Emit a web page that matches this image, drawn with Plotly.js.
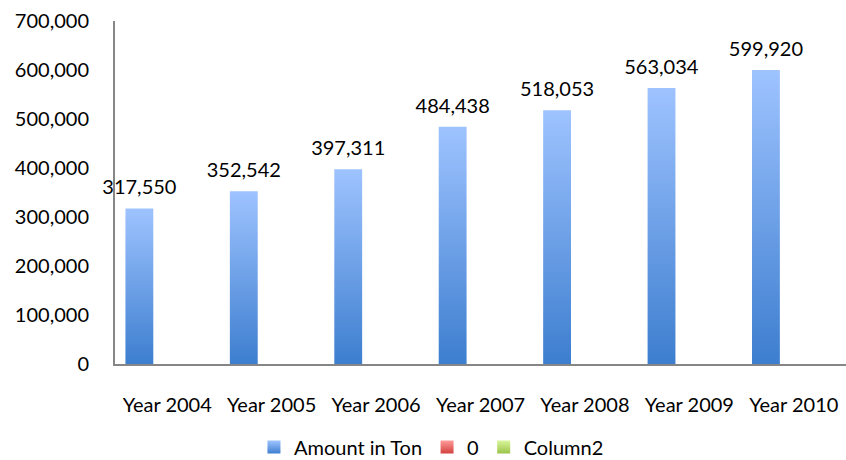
<!DOCTYPE html>
<html><head><meta charset="utf-8">
<script src="https://cdn.plot.ly/plotly-3.0.1.min.js"></script>
<style>body{margin:0;background:#fff}#c{width:846px;height:460px}</style>
</head><body><div id="c"></div>
<script>
const categories = ["Year 2004","Year 2005","Year 2006","Year 2007","Year 2008","Year 2009","Year 2010"];
const amountInTon = [317550, 352542, 397311, 484438, 518053, 563034, 599920];
const series0 = [0, 0, 0, 0, 0, 0, 0];
const column2 = [0, 0, 0, 0, 0, 0, 0];
const seriesNames = ["Amount in Ton", "0", "Column2"];

const font = {family: "Lato, 'Open Sans', sans-serif", size: 20, color: "#000"};
const traces = [
  {type: "bar", name: seriesNames[0], x: categories, y: amountInTon,
   marker: {color: "#6A9BE3", line: {width: 0}},
   text: amountInTon.map(v => v.toLocaleString("en-US")), textposition: "outside",
   constraintext: "none", textfont: font, cliponaxis: false, hoverinfo: "x+y"},
  {type: "bar", name: seriesNames[1], x: categories, y: series0,
   marker: {color: "#E06666", line: {width: 0}}},
  {type: "bar", name: seriesNames[2], x: categories, y: column2,
   marker: {color: "#B5D96A", line: {width: 0}}}
];
const layout = {
  width: 846, height: 460,
  margin: {l: 115, r: 0, t: 21, b: 96},
  paper_bgcolor: "#fff", plot_bgcolor: "#fff",
  font: font,
  barmode: "group", bargap: 0.2, bargroupgap: 0,
  showlegend: true,
  legend: {orientation: "h", xref: "container", yref: "container", x: 0.51, xanchor: "center",
           y: 0.028, yanchor: "middle", font: font, itemwidth: 30, traceorder: "normal"},
  xaxis: {showline: true, linecolor: "#868686", linewidth: 2, ticks: "", showgrid: false,
          zeroline: false, tickfont: font, ticklabelstandoff: 22, automargin: false},
  yaxis: {range: [0, 700000], dtick: 100000, tickformat: ",d", showline: true,
          linecolor: "#868686", linewidth: 2, ticks: "", showgrid: false, zeroline: false,
          tickfont: font, ticklabelstandoff: 20, automargin: false}
};
Plotly.newPlot("c", traces, layout, {staticPlot: true}).then(gd => {
  const svg = gd.querySelector("svg.main-svg");
  const ns = "http://www.w3.org/2000/svg";
  let defs = svg.querySelector("defs");
  const grads = [["gBlue", "#9EC3FF", "#3D7ECF"], ["gRed", "#FF9A99", "#D2413E"], ["gGreen", "#D9F59A", "#9BC34A"]];
  grads.forEach(([id, top, bot]) => {
    const g = document.createElementNS(ns, "linearGradient");
    g.setAttribute("id", id); g.setAttribute("x1", "0"); g.setAttribute("y1", "0");
    g.setAttribute("x2", "0"); g.setAttribute("y2", "1");
    [[0, top], [1, bot]].forEach(([o, c]) => {
      const s = document.createElementNS(ns, "stop");
      s.setAttribute("offset", o); s.setAttribute("stop-color", c);
      g.appendChild(s);
    });
    defs.appendChild(g);
  });
  const traceGroups = gd.querySelectorAll(".barlayer .trace");
  traceGroups.forEach((t, i) => {
    t.querySelectorAll(".point path").forEach(p => { p.style.fill = "url(#" + grads[i][0] + ")"; });
    t.querySelectorAll(".point text").forEach(tx => {
      const tr = tx.getAttribute("transform") || "";
      tx.setAttribute("transform", "translate(0,-7) " + tr);
    });
  });
  gd.querySelectorAll(".legend .traces").forEach((t, i) => {
    t.querySelectorAll(".legendpoints path").forEach(p => {
      p.setAttribute("d", "M6.5,6.5H-6.5V-6.5H6.5Z");
      p.style.fill = "url(#" + grads[i][0] + ")";
    });
  });
});
</script></body></html>
